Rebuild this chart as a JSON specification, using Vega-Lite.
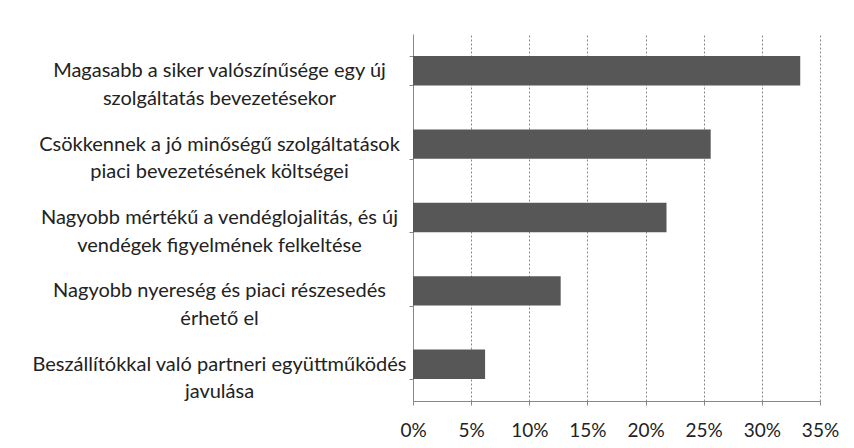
{
  "$schema": "https://vega.github.io/schema/vega-lite/v6.json",
  "width": 407,
  "height": 367,
  "autosize": {"type": "none"},
  "padding": {"left": 413, "top": 34, "right": 34, "bottom": 47},
  "background": "white",
  "config": {"view": {"stroke": null}, "font": "Lato"},
  "data": {
    "values": [
      {"category": "Magasabb a siker valószínűsége egy új|szolgáltatás bevezetésekor", "value": 0.333},
      {"category": "Csökkennek a jó minőségű szolgáltatások|piaci bevezetésének költségei", "value": 0.256},
      {"category": "Nagyobb mértékű a vendéglojalitás, és új|vendégek figyelmének felkeltése", "value": 0.218},
      {"category": "Nagyobb nyereség és piaci részesedés|érhető el", "value": 0.127},
      {"category": "Beszállítókkal való partneri együttműködés|javulása", "value": 0.062}
    ]
  },
  "mark": {"type": "bar", "color": "#575757"},
  "encoding": {
    "y": {
      "field": "category",
      "type": "nominal",
      "sort": null,
      "scale": {"paddingInner": 0.6, "paddingOuter": 0.3},
      "axis": {
        "title": null,
        "labelExpr": "split(datum.label, '|')",
        "labelAlign": "center",
        "labelBaseline": "middle",
        "labelPadding": 190,
        "labelFontSize": 20,
        "labelColor": "#222222",
        "labelLimit": 500,
        "labelLineHeight": 27.5,
        "tickBand": "extent",
        "tickSize": 4,
        "tickColor": "#888888",
        "domainColor": "#888888",
        "grid": false
      }
    },
    "x": {
      "field": "value",
      "type": "quantitative",
      "scale": {"domain": [0, 0.35], "nice": false},
      "axis": {
        "title": null,
        "format": ".0%",
        "values": [0, 0.05, 0.1, 0.15, 0.2, 0.25, 0.3, 0.35],
        "labelFlush": false,
        "labelFontSize": 19,
        "labelColor": "#222222",
        "labelPadding": 16,
        "tickSize": 4,
        "tickColor": "#888888",
        "domainColor": "#888888",
        "grid": true,
        "gridColor": "#888888",
        "gridDash": [2, 2],
        "gridWidth": 1
      }
    }
  }
}
